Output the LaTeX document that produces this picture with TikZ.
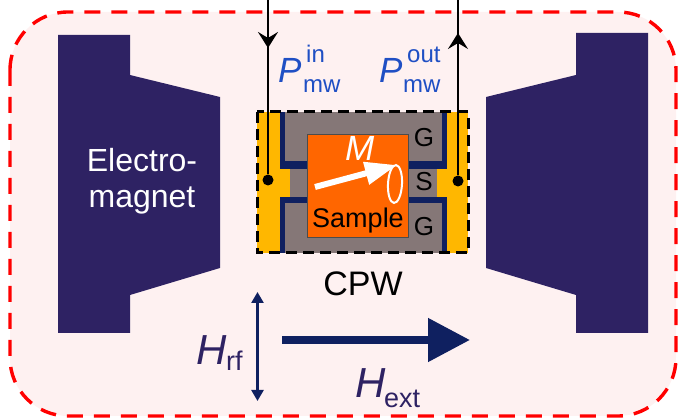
\documentclass[tikz,border=0pt]{standalone}
\usepackage{fontspec}
\setmainfont{Liberation Sans}
\usetikzlibrary{arrows.meta}

\definecolor{roomfill}{HTML}{FEF1F1}
\definecolor{magnetblue}{HTML}{2E2263}
\definecolor{linenavy}{HTML}{0F2060}
\definecolor{cpwgray}{HTML}{857777}
\definecolor{cpwyellow}{HTML}{FFB700}
\definecolor{sampleorange}{HTML}{FF6600}
\definecolor{mwblue}{HTML}{1F4FC4}

\newcommand{\fs}[1]{\fontsize{#1}{#1}\selectfont}

\begin{document}
\begin{tikzpicture}[x=1pt, y=-1pt, >=stealth]
			\tikzstyle{magnet} = [fill=magnetblue]
			\tikzstyle{label} = [inner sep=0pt, anchor=base west]
			\tikzstyle{cpwtext} = [inner sep=0pt, text=black, font=\fs{26}]
			\tikzstyle{wire} = [black, line width=2.2pt]
			\tikzstyle{wiretip} = [wire, -{Stealth[length=16pt, width=20pt, inset=6pt]}]
			\tikzstyle{dot} = [circle, fill=black, minimum size=11pt, inner sep=0pt]
			\useasboundingbox (0,0) rectangle (681,419);

			% enclosure
			\draw[red, fill=roomfill, line width=3.4pt, dash pattern=on 16pt off 11pt, rounded corners=58pt]
				(10,12) rectangle (676,416);

			% magnet poles
			\fill[magnet] (58,35) -- (130,35) -- (130,75) -- (220,97) -- (220,268) -- (130,295) -- (130,333) -- (58,333) -- cycle;
			\fill[magnet] (648,33) -- (576,33) -- (576,75) -- (486,97) -- (486,268) -- (576,295) -- (576,333) -- (648,333) -- cycle;
			\node[text=white, align=center, font=\fs{32}] (magnettext) at (142,181) {Electro-\\[4pt]magnet};

			% waveguide
			\fill[cpwyellow] (257,112) rectangle (468,253);
			\fill[linenavy] (280,112) rectangle (447,253);
			\fill[cpwgray] (285,112) rectangle (442,161);
			\fill[cpwgray] (285,203) rectangle (442,253);
			\fill[linenavy] (280,161) rectangle (447,203);
			\fill[cpwyellow] (257,169) rectangle (290,197);
			\fill[cpwyellow] (437,169) rectangle (468,197);
			\fill[cpwgray] (290,169) rectangle (437,197);
			\draw[black, line width=3pt, dash pattern=on 11pt off 6pt] (257,112) rectangle (468,253);

			% sample
			\node[draw=black!70, fill=sampleorange, minimum width=101pt, minimum height=103pt, inner sep=0pt] (sample) at (357.5,185.5) {};
			\node[cpwtext, font=\fs{27}] (sampletext) at (358,221) {Sample};
			\node[cpwtext] (g1) at (424,138) {G};
			\node[cpwtext] (s) at (424,182) {S};
			\node[cpwtext] (g2) at (424,227) {G};
			\node[label, text=white, font=\fs{35}\itshape] (mtext) at (345,161) {M};

			\coordinate (mstart) at (315,187);
			\coordinate (mend) at (397,165);
			\draw[white, line width=6pt, -{Triangle[length=32pt, width=22pt]}] (mstart) -- (mend);
			\draw[white, line width=2pt, rotate around={-3:(395,184)}] (395,184) ellipse [x radius=7pt, y radius=19pt];

			% microwave lines
			\node[dot] (indot) at (268,180) {};
			\node[dot] (outdot) at (458,181) {};
			\coordinate (intop) at (268,0);
			\coordinate (intip) at (268,48);
			\coordinate (outtop) at (458,0);
			\coordinate (outtip) at (458,33);
			\draw[wire] (intop) -- (indot);
			\draw[wiretip] (intop) -- (intip);
			\draw[wire] (outtop) -- (outdot);
			\draw[wiretip] (outdot) -- (outtip);

			\node[label, text=mwblue, font=\fs{35}\itshape] (pin) at (278,83) {P};
			\node[label, text=mwblue, font=\fs{24}] (pinsup) at (306,63) {in};
			\node[label, text=mwblue, font=\fs{24}] (pinsub) at (303,93) {mw};
			\node[label, text=mwblue, font=\fs{35}\itshape] (pout) at (379,83) {P};
			\node[label, text=mwblue, font=\fs{24}] (poutsup) at (407,63) {out};
			\node[label, text=mwblue, font=\fs{24}] (poutsub) at (403,93) {mw};

			\node[inner sep=0pt, font=\fs{34}] (cpwtext) at (363,284) {CPW};

			% fields
			\coordinate (rftop) at (257.5,292);
			\coordinate (rfbottom) at (257.5,401);
			\draw[linenavy, line width=2.5pt, {Stealth[length=11pt, width=12pt, inset=0pt]}-{Stealth[length=11pt, width=12pt, inset=0pt]}] (rftop) -- (rfbottom);
			\coordinate (extstart) at (282,340);
			\coordinate (extend) at (470,340);
			\draw[linenavy, line width=8pt, -{Triangle[length=42pt, width=42pt]}] (extstart) -- (extend);

			\node[label, text=magnetblue, font=\fs{42}\itshape] (hrf) at (196,365) {H};
			\node[label, text=magnetblue, font=\fs{27}] (rftext) at (226,371) {rf};
			\node[label, text=magnetblue, font=\fs{42}\itshape] (hext) at (355,398) {H};
			\node[label, text=magnetblue, font=\fs{27}] (exttext) at (384,408) {ext};
\end{tikzpicture}
\end{document}
